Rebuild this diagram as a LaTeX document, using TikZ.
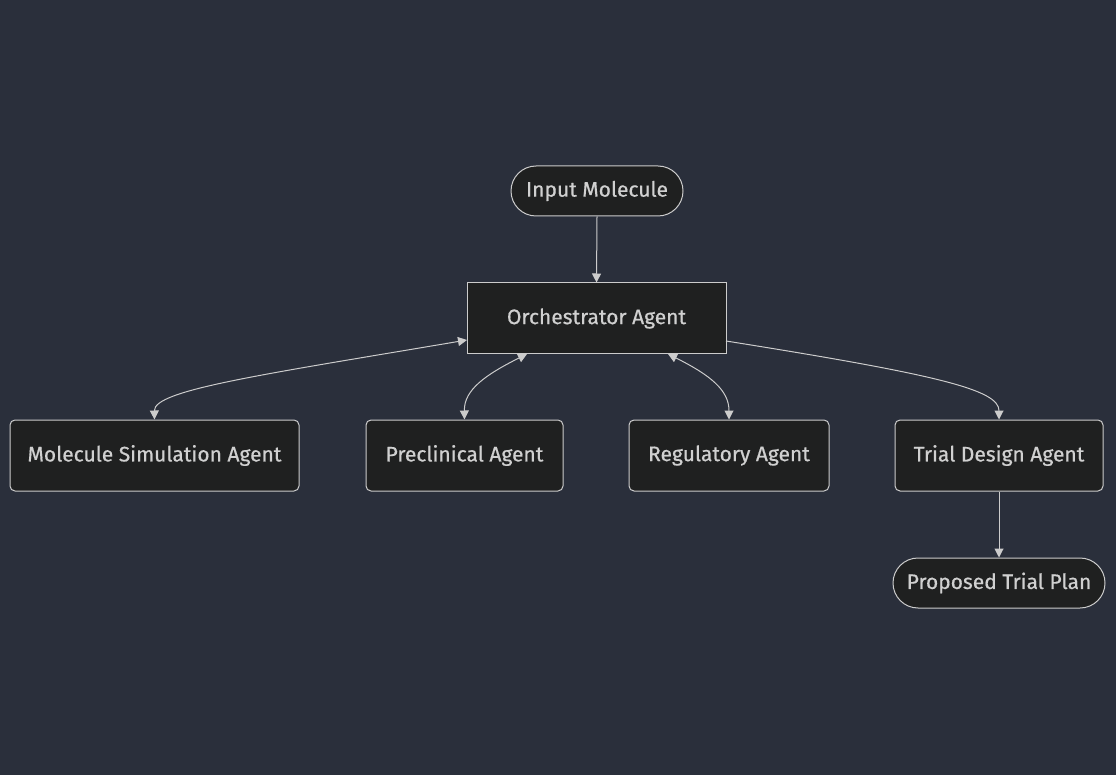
\documentclass[tikz,border=0pt]{standalone}
\usepackage{fontspec}
\setmainfont{Fira Sans}
\newfontfamily\nodefont{Fira Sans}[FakeBold=0.6]
\usetikzlibrary{arrows.meta,shapes.misc}
\definecolor{bgc}{HTML}{2A2F3B}
\definecolor{nodefill}{HTML}{1F2020}
\definecolor{linec}{HTML}{CCCCCC}
\definecolor{textc}{HTML}{D0D0D0}
\begin{document}
\begin{tikzpicture}[x=1pt,y=-1pt,
  base/.style={draw=linec,fill=nodefill,text=textc,line width=1pt,inner sep=0pt,
    font=\nodefont\fontsize{21}{24}\selectfont},
  sharpbox/.style={base,minimum height=71pt},
  roundbox/.style={base,rounded corners=5pt,minimum height=71pt},
  stadium/.style={base,rounded rectangle,minimum height=50pt},
  conn/.style={draw=linec,line width=1pt,-{Triangle[length=9pt,width=9pt]}},
  biconn/.style={draw=linec,line width=1pt,{Triangle[length=9pt,width=9pt]}-{Triangle[length=9pt,width=9pt]}}
]
\fill[bgc] (0,0) rectangle (1116,775);
\useasboundingbox (0,0) rectangle (1116,775);

\node[stadium,minimum width=172pt] (in) at (597,191) {Input Molecule};
\node[sharpbox,minimum width=259pt] (orch) at (596.5,318.5) {Orchestrator Agent};
\node[roundbox,minimum width=289pt] (mol) at (154.5,455.5) {Molecule Simulation Agent};
\node[roundbox,minimum width=197pt] (pre) at (464.5,455.5) {Preclinical Agent};
\node[roundbox,minimum width=200pt] (reg) at (729,455.5) {Regulatory Agent};
\node[roundbox,minimum width=208pt] (trial) at (999,455.5) {Trial Design Agent};
\node[stadium,minimum width=212pt] (plan) at (999,583) {Proposed Trial Plan};

\coordinate (oL) at (467,340);
\coordinate (oPre) at (527,354);
\coordinate (oReg) at (668,354);
\coordinate (oR) at (726,341);

\draw[conn] (in.south) -- (orch.north);
\draw[biconn] (oL) .. controls (260,375) and (154,390) .. (mol.north);
\draw[biconn] (oPre) .. controls (485,375) and (464,390) .. (pre.north);
\draw[biconn] (oReg) .. controls (710,375) and (729,390) .. (reg.north);
\draw[conn] (oR) .. controls (940,375) and (999,390) .. (trial.north);
\draw[conn] (trial.south) -- (plan.north);
\end{tikzpicture}
\end{document}
